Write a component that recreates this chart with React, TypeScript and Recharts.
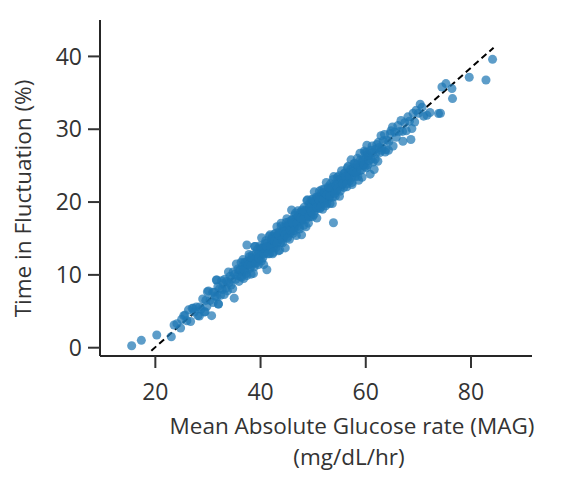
import React from 'react';
import { ScatterChart, Scatter, XAxis, YAxis, ZAxis, ReferenceLine, Label } from 'recharts';

// MAG (mg/dL/hr) vs Time in Fluctuation (%)
const points: [number, number][] = [
  [15.5, 0.27], [17.34, 1.01], [20.27, 1.74], [23.04, 1.51], [23.56, 3.11], [25.0, 3.89], [25.65, 4.48],
  [27.23, 5.4], [28.37, 4.35], [29.89, 7.68], [31.68, 9.29], [31.98, 5.99], [29.45, 4.94],
  [24.1, 3.3], [24.8, 2.7], [25.4, 4.4], [26.0, 3.7], [26.3, 5.2], [26.7, 3.6], [27.0, 5.4], [27.4, 4.9],
  [27.8, 5.6], [28.1, 4.4], [28.4, 5.6], [28.7, 5.3], [29.0, 6.7], [29.3, 4.9], [29.6, 6.5], [29.8, 5.7],
  [30.1, 7.8], [30.4, 6.5], [30.7, 4.4], [30.9, 7.6],
  [31.0, 6.2], [31.2, 7.6], [31.4, 7.1], [31.6, 9.3], [31.7, 7.0], [31.9, 8.4], [32.0, 6.0], [32.2, 8.1],
  [32.4, 7.2], [32.6, 9.2], [32.7, 8.0], [32.9, 8.8], [33.1, 7.3], [33.2, 9.4], [33.4, 8.2], [33.6, 9.1],
  [33.7, 7.8], [33.9, 10.4], [34.0, 8.9], [34.2, 9.8], [34.4, 8.6], [34.5, 9.4], [34.7, 8.1], [34.8, 10.4],
  [35.0, 6.8], [35.1, 10.1], [35.3, 9.4], [35.4, 11.5], [35.6, 9.9], [35.7, 10.8], [35.9, 9.1], [36.0, 10.6],
  [36.2, 9.8], [36.3, 11.7],
  [36.5, 10.4], [36.6, 11.2], [36.8, 9.5], [36.9, 11.7], [37.0, 10.5], [37.2, 11.3], [37.3, 10.2], [37.4, 14.1],
  [37.5, 11.9], [37.7, 11.3], [37.8, 12.8], [38.0, 10.9], [38.1, 12.0], [38.2, 10.1], [38.4, 12.7], [38.5, 11.6],
  [38.6, 12.1], [38.8, 11.1], [38.9, 13.9], [39.0, 11.7], [39.2, 13.0], [39.3, 12.2], [39.4, 13.5], [39.6, 11.4],
  [39.7, 13.0], [39.8, 12.1], [40.0, 13.7], [40.1, 12.8], [40.2, 15.1], [40.4, 12.3], [40.5, 13.7], [40.6, 11.4],
  [40.8, 13.6], [40.9, 13.0], [41.0, 14.7], [41.2, 10.7], [41.3, 14.4], [41.4, 13.5], [41.5, 13.9], [41.7, 12.9],
  [41.8, 15.5], [41.9, 13.5], [42.0, 14.5],
  [42.1, 14.0], [42.2, 15.2], [42.3, 12.9], [42.4, 14.7], [42.5, 13.8], [42.6, 15.6], [42.7, 14.5], [42.8, 15.3],
  [42.9, 13.7], [43.0, 15.0], [43.1, 16.6], [43.2, 14.4], [43.3, 15.4], [43.4, 13.3], [43.5, 15.9], [43.6, 14.9],
  [43.7, 15.3], [43.8, 14.4], [43.9, 16.7], [44.0, 15.2], [44.1, 16.0], [44.2, 14.4], [44.3, 15.8], [44.4, 15.1],
  [44.5, 16.6], [44.6, 15.7], [44.7, 13.7], [44.8, 16.6], [44.9, 15.6], [45.0, 17.7], [45.1, 15.3], [45.2, 16.5],
  [45.3, 16.1], [45.4, 17.3], [45.5, 14.9], [45.6, 16.9], [45.7, 15.8], [45.8, 16.7], [45.9, 18.9], [46.0, 16.4],
  [46.1, 17.6], [46.2, 15.7], [46.3, 17.1], [46.4, 16.5], [46.5, 18.2], [46.6, 17.0], [46.7, 17.8], [46.8, 15.4],
  [46.9, 17.6], [47.0, 16.7], [47.1, 18.8], [47.2, 17.3], [47.3, 18.0], [47.4, 16.6], [47.5, 17.8], [47.6, 18.6],
  [47.7, 17.4], [47.8, 15.5], [47.9, 18.6], [48.0, 17.8],
  [48.1, 18.5], [48.2, 16.8], [48.3, 19.3], [48.4, 18.1], [48.5, 18.9], [48.6, 17.6], [48.7, 18.6], [48.8, 20.2],
  [48.9, 18.1], [49.0, 18.9], [49.1, 17.1], [49.2, 19.7], [49.3, 18.6], [49.4, 19.4], [49.5, 18.0], [49.6, 20.3],
  [49.7, 18.8], [49.8, 19.2], [49.9, 18.0], [50.0, 20.1], [50.1, 19.2], [50.2, 21.4], [50.3, 18.8], [50.4, 19.9],
  [50.5, 19.2], [50.6, 20.7], [50.7, 17.8], [50.8, 20.0], [50.9, 19.2], [51.0, 20.6], [51.1, 19.8], [51.2, 21.5],
  [51.3, 19.1], [51.4, 20.5], [51.5, 19.7], [51.6, 21.2], [51.7, 20.3], [51.8, 19.0], [51.9, 21.1], [52.0, 20.2],
  [52.1, 21.8], [52.2, 19.9], [52.3, 20.8], [52.4, 20.4], [52.5, 22.7], [52.6, 19.8], [52.7, 21.4], [52.8, 20.9],
  [52.9, 21.9], [53.0, 20.5], [53.1, 21.5], [53.2, 19.8], [53.3, 22.5], [53.4, 21.1], [53.5, 22.0], [53.7, 20.7],
  [53.86, 17.15], [53.8, 23.1], [54.0, 21.6],
  [54.1, 22.5], [54.2, 20.8], [54.4, 22.4], [54.5, 21.6], [54.6, 23.4], [54.8, 22.2], [54.9, 23.1], [55.0, 20.8],
  [55.2, 22.8], [55.3, 22.1], [55.4, 24.3], [55.6, 22.5], [55.7, 23.3], [55.8, 22.0], [56.0, 24.0], [56.1, 23.0],
  [56.2, 23.3], [56.4, 22.1], [56.5, 24.7], [56.6, 23.1], [56.8, 24.1], [56.9, 22.9], [57.0, 23.9], [57.2, 25.8],
  [57.3, 23.4], [57.4, 22.4], [57.6, 24.7], [57.7, 24.0], [57.8, 25.3], [58.0, 23.5], [58.1, 24.8], [58.3, 24.2],
  [58.4, 26.0], [58.5, 23.5], [58.7, 24.9], [58.8, 24.3], [59.0, 25.8], [59.1, 25.0], [59.3, 23.4], [59.4, 25.8],
  [59.6, 25.1], [59.7, 27.0], [59.9, 24.9], [60.0, 25.9],
  [60.2, 26.8], [60.21, 27.8], [60.4, 25.1], [60.5, 26.3], [60.84, 23.83], [61.0, 25.9], [61.2, 27.7], [61.4, 25.5],
  [61.6, 24.47], [61.7, 27.2], [61.9, 26.7], [62.1, 27.9], [62.3, 25.6], [62.5, 27.5], [62.7, 26.8], [62.9, 29.1],
  [63.1, 27.4], [63.3, 28.4], [63.56, 29.27], [63.69, 26.88], [63.8, 27.2], [64.0, 28.5], [64.32, 27.12], [64.65, 29.41],
  [64.4, 28.3], [64.8, 29.8], [65.08, 30.31], [65.2, 27.7], [65.5, 29.6], [65.8, 28.9], [66.1, 30.5], [66.4, 29.7],
  [66.7, 31.2], [67.06, 28.35], [67.0, 29.7], [67.4, 30.9], [67.7, 29.8], [68.0, 31.7], [68.3, 31.1], [68.58, 28.59],
  [68.77, 30.09], [69.0, 32.2], [69.3, 31.0], [69.59, 32.6], [70.0, 32.2], [70.35, 33.43], [70.7, 33.0], [71.0, 31.8],
  [71.63, 31.92], [72.2, 32.3], [73.83, 32.15], [74.2, 32.2], [74.48, 35.8], [75.24, 36.27], [76.38, 35.58], [76.49, 34.21],
  [79.67, 37.13], [82.85, 36.76], [84.1, 39.6],
  [36.15, 10.7], [36.4, 9.7], [36.65, 12.1], [36.9, 10.7], [37.15, 11.7], [37.4, 9.9], [37.65, 11.4], [37.9, 12.5],
  [38.15, 11.2], [38.4, 12.3], [38.65, 10.2], [38.95, 13.9], [39.15, 11.6], [39.4, 12.7], [39.65, 12.3], [39.9, 14.0],
  [40.15, 11.9], [40.4, 13.7], [40.65, 12.9], [40.9, 14.3], [41.15, 13.9], [41.4, 12.9], [41.65, 15.3], [41.9, 13.9],
  [42.15, 14.9], [42.4, 13.1], [42.65, 14.6], [42.9, 15.7], [43.15, 14.4], [43.4, 15.5], [43.65, 13.4], [43.9, 17.1],
  [44.15, 14.8], [44.4, 15.9], [44.65, 15.5], [44.9, 17.2], [45.15, 15.1], [45.4, 16.9], [45.65, 16.1], [45.9, 17.5],
  [46.15, 17.1], [46.4, 16.1], [46.65, 18.5], [46.9, 17.1], [47.15, 18.1], [47.4, 16.3], [47.65, 17.8], [47.9, 18.9],
  [48.15, 17.6], [48.4, 18.7], [48.65, 16.6], [48.9, 20.3], [49.15, 18.0], [49.4, 19.1], [49.65, 18.7], [49.9, 20.4],
  [50.15, 18.3], [50.4, 20.1], [50.65, 19.3], [50.9, 20.7], [51.15, 20.3], [51.4, 19.3], [51.65, 21.7], [51.9, 20.3],
  [52.15, 21.3], [52.4, 19.5], [52.65, 21.0], [52.9, 22.1], [53.15, 20.8], [53.4, 21.9], [53.65, 19.8], [53.9, 23.5],
  [54.15, 21.2], [54.4, 22.3], [54.65, 21.9], [54.9, 23.6], [55.15, 21.5], [55.4, 23.3], [55.65, 22.5], [55.9, 23.9],
  [56.15, 23.5], [56.4, 22.5], [56.65, 24.9], [56.9, 23.5], [57.15, 24.5], [57.4, 22.7], [57.65, 24.2], [57.9, 25.3],
  [58.15, 24.0], [58.4, 25.1], [58.65, 23.0], [58.9, 26.7], [59.15, 24.4], [59.4, 25.5], [59.65, 25.1], [59.9, 26.8],
  [60.15, 24.7], [60.4, 26.5], [60.65, 25.7], [60.9, 27.1], [61.3, 26.8], [61.8, 25.9], [62.4, 28.2], [63.0, 27.1],
];

const fitLine = [
  { x: 19.24, y: -0.41 },
  { x: 84.3, y: 41.2 },
];

const xTicks = [20, 40, 60, 80];
const yTicks = [0, 10, 20, 30, 40];
const xTitle = 'Mean Absolute Glucose rate (MAG)';
const xUnits = '(mg/dL/hr)';
const yTitle = 'Time in Fluctuation (%)';

const data = points.map(([mag, tif]) => ({ mag, tif }));

const FONT = '"Open Sans", sans-serif';
const TEXT = '#333333';
const AXIS = '#262626';

const XTitle = () => (
  <text fontFamily={FONT} fontSize={22.5} fill={TEXT} textAnchor="middle">
    <tspan x={352} y={434}>{xTitle}</tspan>
    <tspan x={349} y={465}>{xUnits}</tspan>
  </text>
);

const YTitle = () => (
  <text
    fontFamily={FONT}
    fontSize={22.5}
    fill={TEXT}
    textAnchor="middle"
    x={31}
    y={198.5}
    transform="rotate(-90, 31, 198.5)"
  >
    {yTitle}
  </text>
);

export default function App() {
  return (
    <div style={{ position: 'absolute', left: 0, top: 0, width: 564, height: 482, background: '#fff' }}>
      <ScatterChart width={564} height={482} margin={{ top: 20, right: 32, bottom: 0, left: 0 }}>
        <XAxis
          type="number"
          dataKey="mag"
          domain={[9.48, 91.6]}
          ticks={xTicks}
          allowDataOverflow
          height={126}
          tickSize={12}
          tickMargin={16}
          axisLine={{ stroke: AXIS, strokeWidth: 2 }}
          tickLine={{ stroke: TEXT, strokeWidth: 2 }}
          tick={{ fill: TEXT, fontSize: 23, fontFamily: FONT }}
        >
          <Label content={XTitle} />
        </XAxis>
        <YAxis
          type="number"
          dataKey="tif"
          domain={[-1.14, 45]}
          ticks={yTicks}
          allowDataOverflow
          width={100}
          tickSize={12}
          tickMargin={6}
          axisLine={{ stroke: AXIS, strokeWidth: 2 }}
          tickLine={{ stroke: TEXT, strokeWidth: 2 }}
          tick={{ fill: TEXT, fontSize: 23, fontFamily: FONT }}
        >
          <Label content={YTitle} />
        </YAxis>
        <ZAxis range={[40, 40]} />
        <Scatter
          data={data}
          fill="#1f77b4"
          fillOpacity={0.72}
          shape="circle"
          isAnimationActive={false}
        />
        <ReferenceLine
          segment={fitLine}
          stroke="#000"
          strokeWidth={2}
          strokeDasharray="6.5 4"
          ifOverflow="visible"
        />
      </ScatterChart>
    </div>
  );
}
